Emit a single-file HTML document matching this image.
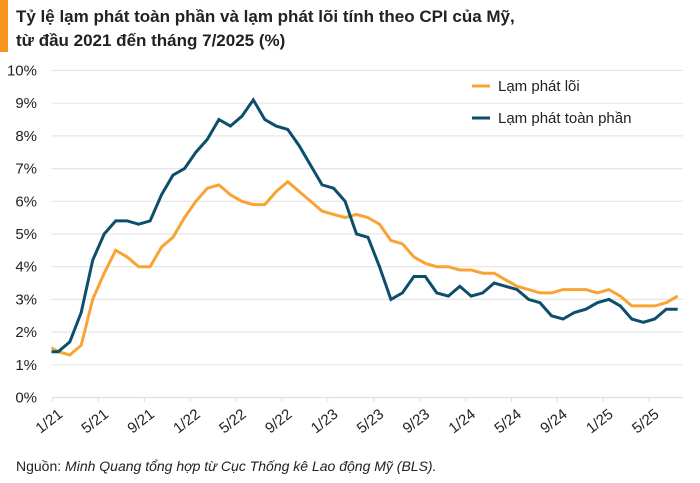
<!DOCTYPE html>
<html><head><meta charset="utf-8"><style>
body{margin:0;background:#fff;}
svg{display:block;font-family:"Liberation Sans",sans-serif;}
</style></head><body>
<svg width="700" height="483" viewBox="0 0 700 483">
<rect x="0" y="0" width="8" height="52" fill="#f7941d"/>
<text x="16" y="22" font-size="17" font-weight="bold" fill="#222">Tỷ lệ lạm phát toàn phần và lạm phát lõi tính theo CPI của Mỹ,</text>
<text x="16" y="46" font-size="17" font-weight="bold" fill="#222">từ đầu 2021 đến tháng 7/2025 (%)</text>
<g id="grid"></g>
<g id="xaxis"></g>
<defs><clipPath id="plotclip"><rect x="51.5" y="40" width="640" height="370"/></clipPath></defs>
<g id="series" clip-path="url(#plotclip)"></g>
<g>
<line x1="472" y1="86" x2="490" y2="86" stroke="#f9a334" stroke-width="3"/>
<text x="498" y="91" font-size="15" fill="#222">Lạm phát lõi</text>
<line x1="472" y1="118" x2="490" y2="118" stroke="#0d4f6b" stroke-width="3"/>
<text x="498" y="123" font-size="15" fill="#222">Lạm phát toàn phần</text>
</g>
<text x="16" y="471" font-size="14" fill="#222">Nguồn: <tspan font-style="italic">Minh Quang tổng hợp từ Cục Thống kê Lao động Mỹ (BLS).</tspan></text>
</svg>
<script>
// Months from 12/2020 to 7/2025
const headline = [1.4,1.4,1.7,2.6,4.2,5.0,5.4,5.4,5.3,5.4,6.2,6.8,7.0,7.5,7.9,8.5,8.3,8.6,9.1,8.5,8.3,8.2,7.7,7.1,6.5,6.4,6.0,5.0,4.9,4.0,3.0,3.2,3.7,3.7,3.2,3.1,3.4,3.1,3.2,3.5,3.4,3.3,3.0,2.9,2.5,2.4,2.6,2.7,2.9,3.0,2.8,2.4,2.3,2.4,2.7,2.7];
const core = [1.6,1.4,1.3,1.6,3.0,3.8,4.5,4.3,4.0,4.0,4.6,4.9,5.5,6.0,6.4,6.5,6.2,6.0,5.9,5.9,6.3,6.6,6.3,6.0,5.7,5.6,5.5,5.6,5.5,5.3,4.8,4.7,4.3,4.1,4.0,4.0,3.9,3.9,3.8,3.8,3.6,3.4,3.3,3.2,3.2,3.3,3.3,3.3,3.2,3.3,3.1,2.8,2.8,2.8,2.9,3.1];
const yTicks = [0,1,2,3,4,5,6,7,8,9,10];
const xTickLabels = ["1/21","5/21","9/21","1/22","5/22","9/22","1/23","5/23","9/23","1/24","5/24","9/24","1/25","5/25"];
const NS='http://www.w3.org/2000/svg';
const step = 11.47;
function xPos(i){ return 58.3 + (i-1)*step; }
function yPos(v){ return 397.5 - v*32.7; }
const grid=document.getElementById('grid');
yTicks.forEach(t=>{
  const y=yPos(t);
  if(t>0){
    const l=document.createElementNS(NS,'line');
    l.setAttribute('x1',51.5);l.setAttribute('x2',683);l.setAttribute('y1',y);l.setAttribute('y2',y);
    l.setAttribute('stroke','#e6e6e6');l.setAttribute('stroke-width','1.2');
    
    
    grid.appendChild(l);
  }
  const tx=document.createElementNS(NS,'text');
  tx.setAttribute('x',37);tx.setAttribute('y',y+5);tx.setAttribute('text-anchor','end');
  tx.setAttribute('font-size','15');tx.setAttribute('fill','#222');
  tx.textContent=t+'%';
  
  
  grid.appendChild(tx);
});
const xa=document.getElementById('xaxis');
const ax=document.createElementNS(NS,'line');
ax.setAttribute('x1',51.5);ax.setAttribute('x2',683);ax.setAttribute('y1',397.5);ax.setAttribute('y2',397.5);
ax.setAttribute('stroke','#e0e0e0');ax.setAttribute('stroke-width','1.2');


xa.appendChild(ax);
xTickLabels.forEach((lab,k)=>{
  const x=xPos(1+4*k)-step/2;
  const t=document.createElementNS(NS,'line');
  t.setAttribute('x1',x);t.setAttribute('x2',x);t.setAttribute('y1',397.5);t.setAttribute('y2',402);
  t.setAttribute('stroke','#e0e0e0');
  
  
  xa.appendChild(t);
  const tx=document.createElementNS(NS,'text');
  tx.setAttribute('text-anchor','end');tx.setAttribute('font-size','15');tx.setAttribute('fill','#222');
  tx.setAttribute('transform','translate('+(x+11)+',416) rotate(-38)');
  tx.textContent=lab;
  
  
  xa.appendChild(tx);
});
const ser=document.getElementById('series');
function draw(arr,color,name){
  const p=document.createElementNS(NS,'polyline');
  p.setAttribute('points',arr.map((v,i)=>xPos(i).toFixed(1)+','+yPos(v).toFixed(1)).join(' '));
  p.setAttribute('fill','none');p.setAttribute('stroke',color);p.setAttribute('stroke-width','3');
  p.setAttribute('stroke-linejoin','miter');
  
  
  ser.appendChild(p);
}
draw(core,'#f9a334','core-inflation-line');
draw(headline,'#0d4f6b','headline-inflation-line');
</script>
</body></html>
